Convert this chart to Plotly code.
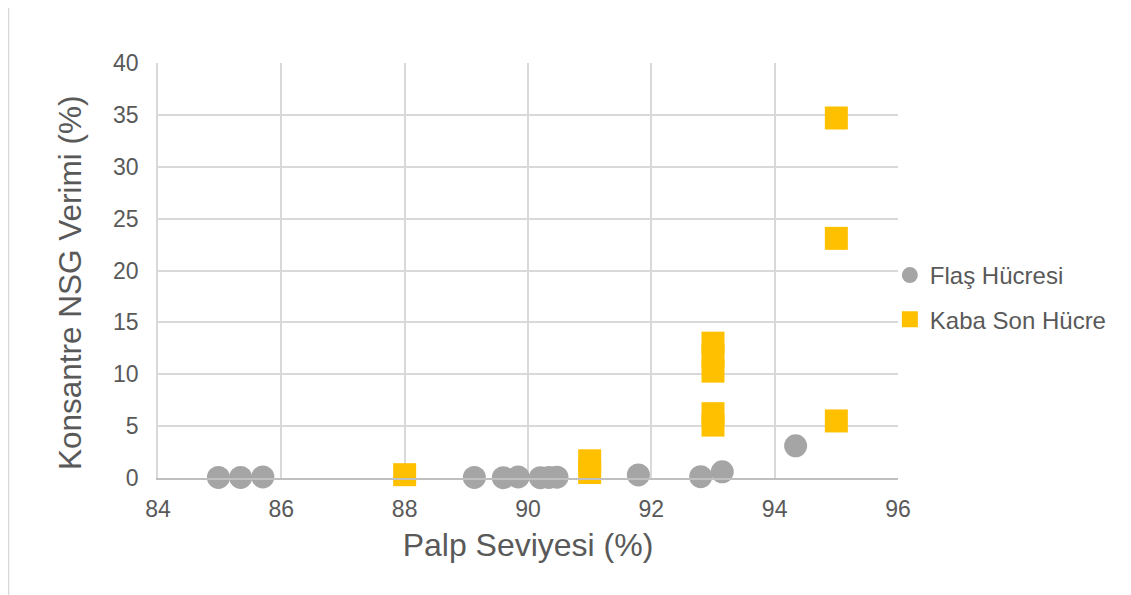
import plotly.graph_objects as go

flas_x = [84.98, 85.34, 85.70, 89.13, 89.60, 89.84, 90.20, 90.34, 90.47, 91.79, 92.80, 93.15, 94.34]
flas_y = [0.05, 0.05, 0.10, 0.05, 0.03, 0.10, 0.03, 0.05, 0.08, 0.30, 0.13, 0.60, 3.10]

kaba_x = [88.0, 91.0, 91.0, 93.0, 93.0, 93.0, 93.0, 93.0, 95.0, 95.0, 95.0]
kaba_y = [0.32, 1.66, 0.53, 13.0, 11.8, 10.3, 6.2, 5.1, 34.7, 23.1, 5.5]

x_ticks = [84, 86, 88, 90, 92, 94, 96]
y_ticks = [0, 5, 10, 15, 20, 25, 30, 35, 40]

x_title = "Palp Seviyesi (%)"
y_title = "Konsantre NSG Verimi (%)"

GRAY = "#A5A5A5"
GOLD = "#FFC000"
TXT = "#595959"
FONT = "Liberation Sans, Arial, sans-serif"

fig = go.Figure()
fig.add_trace(go.Scatter(x=flas_x, y=flas_y, mode="markers", name="Flaş Hücresi", cliponaxis=False,
                         legendgroup="flas",
                         marker=dict(symbol="circle", size=23, color=GRAY)))
fig.add_trace(go.Scatter(x=kaba_x, y=kaba_y, mode="markers", name="Kaba Son Hücre", cliponaxis=False,
                         legendgroup="kaba",
                         marker=dict(symbol="square", size=23, color=GOLD)))

fig.update_layout(
    width=1123, height=587,
    margin=dict(l=150, r=233, t=55, b=117),
    paper_bgcolor="white", plot_bgcolor="white",
    font=dict(family=FONT, color=TXT, size=23),
    showlegend=True,
    legend=dict(x=0.989, y=0.435, xanchor="left", yanchor="middle",
                font=dict(size=24, color=TXT, family=FONT),
                itemwidth=30, tracegroupgap=10, bgcolor="rgba(0,0,0,0)"),
    xaxis=dict(range=[84, 96], tickvals=x_ticks, showgrid=True, gridcolor="#D9D9D9", gridwidth=1.5,
               zeroline=False, showline=True, linecolor="#BFBFBF", linewidth=1.5,
               ticks="outside", ticklen=10, tickcolor="rgba(0,0,0,0)",
               tickfont=dict(size=23, color=TXT, family=FONT),
               title=dict(text=x_title, font=dict(size=32, color=TXT, family=FONT), standoff=12)),
    yaxis=dict(range=[0, 40], tickvals=y_ticks, showgrid=True, gridcolor="#D9D9D9", gridwidth=1.5,
               zeroline=False, showline=True, linecolor="#D9D9D9", linewidth=1.5,
               ticks="outside", ticklen=13, tickcolor="rgba(0,0,0,0)",
               tickfont=dict(size=23, color=TXT, family=FONT)),
)

fig.add_annotation(text=y_title, textangle=-90, xref="paper", yref="paper",
                   x=-0.1196, y=0.471, xanchor="center", yanchor="middle", showarrow=False,
                   font=dict(size=31.5, color=TXT, family=FONT))

fig.add_shape(type="line", xref="paper", yref="paper",
              x0=-0.2020, x1=-0.2020, y0=-0.3, y1=1.16,
              line=dict(color="#D9D9D9", width=1.5))

fig.write_html("out.html")
